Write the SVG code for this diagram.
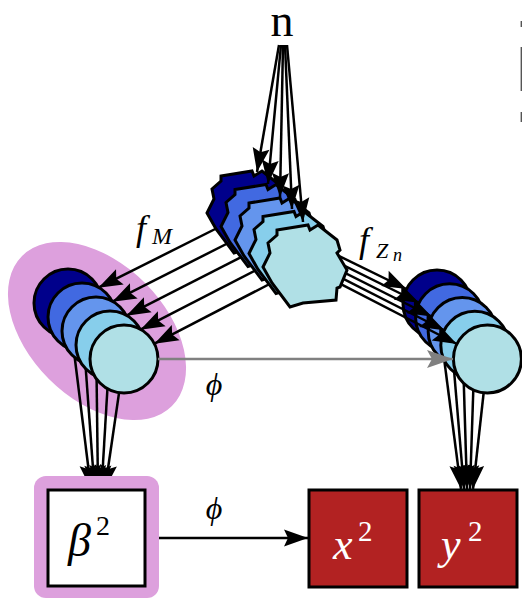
<svg xmlns="http://www.w3.org/2000/svg" xmlns:xlink="http://www.w3.org/1999/xlink" width="522" height="599" viewBox="0 0 522 599">
<style>
.ln{stroke:#000;stroke-width:2.5;fill:none}
.gl{stroke:#808080;stroke-width:2.5;fill:none}
.nd{stroke:#000;stroke-width:3}
.m{font-family:"Liberation Serif","DejaVu Serif",serif;font-style:italic}
.r{font-family:"Liberation Serif","DejaVu Serif",serif}
</style>
<defs>
<marker id="ah" viewBox="-26 -10 27 20" refX="0" refY="0" markerWidth="27" markerHeight="20" markerUnits="userSpaceOnUse" orient="auto">
<path d="M0,0 L-24,-8.5 L-20,0 L-24,8.5 Z" fill="#000"/>
</marker>
<marker id="ahg" viewBox="-28 -10 29 20" refX="0" refY="0" markerWidth="29" markerHeight="20" markerUnits="userSpaceOnUse" orient="auto">
<path d="M0,0 L-26,-9 L-21,0 L-26,9 Z" fill="#808080"/>
</marker>
<path id="gear" d="M-28,-36 L3,-41 L5,-36 L13,-41 L32,-26 L35,-16 L32,-13 L42,4 L35,21 L32,22 L31,34 L-2,37 L-15,41 L-33,17 L-42,1 L-35,-13 L-37,-23 L-28,-31 Z"/>
</defs>
<rect width="522" height="599" fill="#fff"/>

<g id="group-highlight">
<ellipse cx="97" cy="331" rx="106" ry="68" transform="rotate(45 97 331)" fill="#DDA0DD"/>
</g>

<g id="connectors-down">
<line class="ln" x1="68" y1="303" x2="91" y2="489" marker-end="url(#ah)"/>
<line class="ln" x1="82" y1="317" x2="94.5" y2="489" marker-end="url(#ah)"/>
<line class="ln" x1="96" y1="331" x2="98" y2="489" marker-end="url(#ah)"/>
<line class="ln" x1="110" y1="345" x2="101.5" y2="489" marker-end="url(#ah)"/>
<line class="ln" x1="124" y1="359" x2="105" y2="489" marker-end="url(#ah)"/>
<line class="ln" x1="437" y1="304" x2="461" y2="489" marker-end="url(#ah)"/>
<line class="ln" x1="449.6" y1="317.75" x2="464" y2="489" marker-end="url(#ah)"/>
<line class="ln" x1="462.2" y1="331.5" x2="467" y2="489" marker-end="url(#ah)"/>
<line class="ln" x1="474.8" y1="345.25" x2="470" y2="489" marker-end="url(#ah)"/>
<line class="ln" x1="487.4" y1="359" x2="473" y2="489" marker-end="url(#ah)"/>
</g>

<g id="left-circles">
<circle id="M0" class="nd" cx="68" cy="303" r="34" fill="#00008B"/>
<circle id="M1" class="nd" cx="82" cy="317" r="34" fill="#4169E1"/>
<circle id="M2" class="nd" cx="96" cy="331" r="34" fill="#6495ED"/>
<circle id="M3" class="nd" cx="110" cy="345" r="34" fill="#87CEEB"/>
<circle id="M4" class="nd" cx="124" cy="359" r="34" fill="#B0E0E6"/>
</g>

<g id="right-circles">
<circle id="Z0" class="nd" cx="437" cy="304" r="34" fill="#00008B"/>
<circle id="Z1" class="nd" cx="449.6" cy="317.75" r="34" fill="#4169E1"/>
<circle id="Z2" class="nd" cx="462.2" cy="331.5" r="34" fill="#6495ED"/>
<circle id="Z3" class="nd" cx="474.8" cy="345.25" r="34" fill="#87CEEB"/>
<circle id="Z4" class="nd" cx="487.4" cy="359" r="34" fill="#B0E0E6"/>
</g>

<g id="connectors-mid">
<line class="ln" x1="222.2" y1="225.5" x2="98.4" y2="287.7" marker-end="url(#ah)"/>
<line class="ln" x1="236.2" y1="239" x2="112.4" y2="301.7" marker-end="url(#ah)"/>
<line class="ln" x1="250.2" y1="252.5" x2="126.4" y2="315.7" marker-end="url(#ah)"/>
<line class="ln" x1="264.2" y1="266" x2="140.4" y2="329.7" marker-end="url(#ah)"/>
<line class="ln" x1="278.2" y1="279.5" x2="154.4" y2="343.7" marker-end="url(#ah)"/>
<line class="ln" x1="267" y1="220.8" x2="406.5" y2="289" marker-end="url(#ah)"/>
<line class="ln" x1="281" y1="234.3" x2="419.1" y2="302.75" marker-end="url(#ah)"/>
<line class="ln" x1="295" y1="247.8" x2="431.7" y2="316.5" marker-end="url(#ah)"/>
<line class="ln" x1="309" y1="261.3" x2="444.3" y2="330.25" marker-end="url(#ah)"/>
<line class="ln" x1="323" y1="274.8" x2="456.9" y2="344" marker-end="url(#ah)"/>
<line class="gl" x1="158" y1="359" x2="453" y2="359" marker-end="url(#ahg)"/>
</g>

<g id="gears">
<use id="G0" xlink:href="#gear" href="#gear" x="249" y="212" fill="#00008B" stroke="#000" stroke-width="3"/>
<use id="G1" xlink:href="#gear" href="#gear" x="263" y="225.5" fill="#4169E1" stroke="#000" stroke-width="3"/>
<use id="G2" xlink:href="#gear" href="#gear" x="277" y="239" fill="#6495ED" stroke="#000" stroke-width="3"/>
<use id="G3" xlink:href="#gear" href="#gear" x="291" y="252.5" fill="#87CEEB" stroke="#000" stroke-width="3"/>
<use id="G4" xlink:href="#gear" href="#gear" x="305" y="266" fill="#B0E0E6" stroke="#000" stroke-width="3"/>
</g>

<g id="connectors-top">
<line class="ln" x1="279" y1="45" x2="257" y2="172" marker-end="url(#ah)"/>
<line class="ln" x1="281" y1="45" x2="268" y2="184" marker-end="url(#ah)"/>
<line class="ln" x1="283" y1="45" x2="280" y2="197" marker-end="url(#ah)"/>
<line class="ln" x1="285" y1="45" x2="292" y2="209" marker-end="url(#ah)"/>
<line class="ln" x1="287" y1="45" x2="303" y2="222" marker-end="url(#ah)"/>
<line class="ln" x1="145" y1="538" x2="308" y2="538" marker-end="url(#ah)"/>
</g>

<g id="node-n">
<text class="r" x="282" y="36" font-size="46" text-anchor="middle">n</text>
</g>

<g id="node-beta">
<rect x="34" y="476" width="125" height="122" rx="12" fill="#DDA0DD"/>
<rect class="nd" x="48" y="490" width="97" height="96" fill="#fff"/>
<text class="m" x="68" y="556" font-size="46">β</text>
<text class="r" x="96" y="535" font-size="28">2</text>
</g>

<g id="node-x">
<rect class="nd" x="309" y="490" width="98" height="97" fill="#B22222"/>
<text class="m" x="333" y="559" font-size="44" fill="#fff">x</text>
<text class="r" x="358" y="541" font-size="29" fill="#fff">2</text>
</g>

<g id="node-y">
<rect class="nd" x="419" y="490" width="98" height="97" fill="#B22222"/>
<text class="m" x="441" y="559" font-size="44" fill="#fff">y</text>
<text class="r" x="468" y="541" font-size="29" fill="#fff">2</text>
</g>

<g id="labels">
<text class="m" x="136" y="240" font-size="36">f</text>
<text class="m" x="152" y="244" font-size="24">M</text>
<text class="m" x="359" y="252" font-size="36">f</text>
<text class="m" x="376" y="258" font-size="22">Z</text>
<text class="m" x="393" y="261" font-size="18">n</text>
<text class="m" x="214" y="395" font-size="32" text-anchor="middle">ϕ</text>
<text class="m" x="214" y="519" font-size="32" text-anchor="middle">ϕ</text>
</g>

<path d="M521.3,21 v6 M521.3,47 v44 M521.3,112 v10" stroke="#555" stroke-width="1.4" fill="none"/>
</svg>
